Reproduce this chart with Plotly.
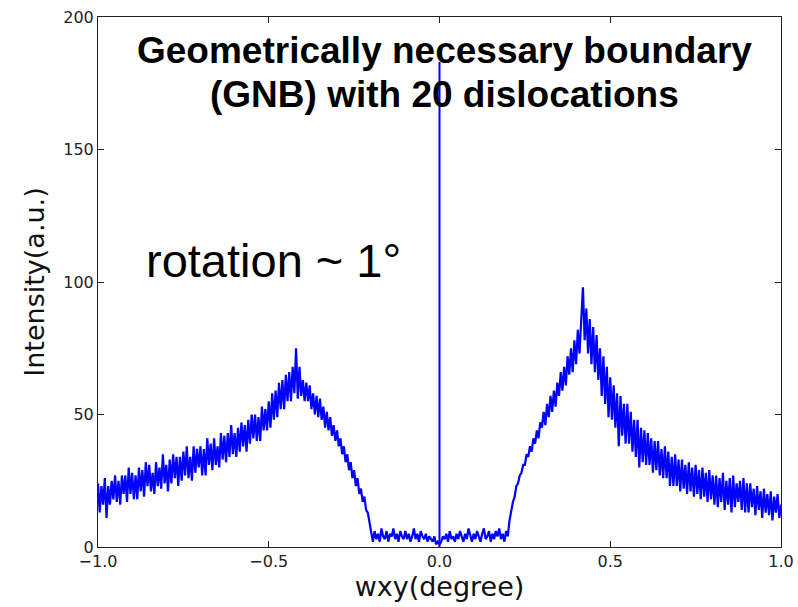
import numpy as np
import plotly.graph_objects as go

# x grid: -1.0 .. 1.0, step 0.005 (401 samples)
x_start, x_stop, n_pts = -1.0, 1.0, 401

intensity_left = [
    24,13,23,16,26,11,23,16,25,18,27,17,25,16,27,20,27,17,30,20,
    28,18,27,18,30,21,29,19,32,23,31,21,28,20,32,23,30,22,35,24,
    31,21,33,24,35,26,34,23,34,25,36,27,38,26,34,25,38,28,37,30,
    38,27,37,27,41,31,39,29,41,31,38,30,43,33,42,32,43,34,46,35,
    43,34,45,36,47,38,46,36,48,39,50,41,50,40,49,40,53,44,52,44,
    55,45,58,48,59,49,62,52,63,52,65,55,66,55,68,58,75,56,68,57,
    63,55,62,55,61,52,58,50,57,49,56,48,53,45,51,44,49,42,46,40,
    44,38,41,35,38,32,35,29,32,26,29,23,26,20,22,17,19,14,13,9,
    5,2,6,3,5,2,7,4,3,6,2,5,4,7,3,5,2,6,4,3,
    6,3,5,2,4,7,3,5,2,6,4,3,5,2,4,3,2,4,1,2,
]
intensity_center = [1]
intensity_right = [
    2,4,3,5,2,6,3,4,2,5,3,6,4,2,5,3,7,4,2,5,
    3,6,4,2,5,7,3,4,6,2,5,3,6,4,7,3,5,2,6,4,
    10,14,17,19,23,24,27,28,31,31,35,34,38,36,41,39,44,41,47,45,
    51,46,54,49,57,51,59,53,62,57,66,59,68,61,72,65,75,66,78,69,
    82,73,88,98,78,90,73,86,69,83,66,80,63,75,57,72,54,68,49,64,
    48,61,45,58,38,57,42,54,39,54,39,51,36,48,34,48,30,45,32,44,
    31,43,31,41,28,40,29,40,27,37,26,38,26,36,23,34,23,35,23,33,
    21,33,22,31,20,32,21,30,19,31,20,29,18,30,19,28,17,29,18,27,
    16,27,15,26,17,28,14,25,16,26,13,27,15,24,17,25,14,26,13,24,
    13,24,15,22,12,23,14,21,11,22,13,20,12,21,10,19,13,20,11,16,
]
intensity = intensity_left + intensity_center + intensity_right

# central specular spike
spike_x = [0.0, 0.0]
spike_y = [0.0, 183.0]

x_ticks = [-1.0, -0.5, 0.0, 0.5, 1.0]
y_ticks = [0, 50, 100, 150, 200]

x = np.linspace(x_start, x_stop, n_pts)

BLUE = "#0000ff"
fig = go.Figure()
fig.add_trace(go.Scatter(x=x, y=intensity, mode="lines",
                         line=dict(color=BLUE, width=2.2), showlegend=False))
fig.add_trace(go.Scatter(x=spike_x, y=spike_y, mode="lines",
                         line=dict(color=BLUE, width=2), showlegend=False))

tickfont = dict(family="DejaVu Sans", size=16, color="#222")
axis_common = dict(showgrid=False, zeroline=False, showline=True, linecolor="#222",
                   linewidth=1, mirror="allticks", ticks="inside", ticklen=6,
                   tickcolor="#222", tickwidth=1, tickfont=tickfont)

fig.update_layout(
    width=798, height=607,
    margin=dict(l=98, r=17, t=17, b=60, autoexpand=False),
    paper_bgcolor="white", plot_bgcolor="white",
    xaxis=dict(range=[-1, 1], tickvals=x_ticks, tickformat=".1f",
               title=dict(text="wxy(degree)", font=dict(family="DejaVu Sans", size=27, color="#111"),
                          standoff=4),
               automargin=False, **axis_common),
    yaxis=dict(range=[0, 200], tickvals=y_ticks,
               title=dict(text="Intensity(a.u.)", font=dict(family="DejaVu Sans", size=27, color="#111"),
                          standoff=10),
               automargin=False, **axis_common),
    annotations=[
        dict(text="<b>Geometrically necessary boundary</b>", xref="paper", yref="paper",
             x=0.507, y=0.936, xanchor="center", yanchor="middle", showarrow=False,
             font=dict(family="Liberation Sans", size=37, color="black")),
        dict(text="<b>(GNB) with 20 dislocations</b>", xref="paper", yref="paper",
             x=0.507, y=0.853, xanchor="center", yanchor="middle", showarrow=False,
             font=dict(family="Liberation Sans", size=37, color="black")),
        dict(text="rotation ~ 1°", xref="paper", yref="paper",
             x=0.068, y=0.5406, xanchor="left", yanchor="middle", showarrow=False,
             font=dict(family="Liberation Sans", size=47, color="black")),
    ],
)

fig.write_html("out.html", config={"displayModeBar": False},
               post_script="document.body.style.margin='0';")
